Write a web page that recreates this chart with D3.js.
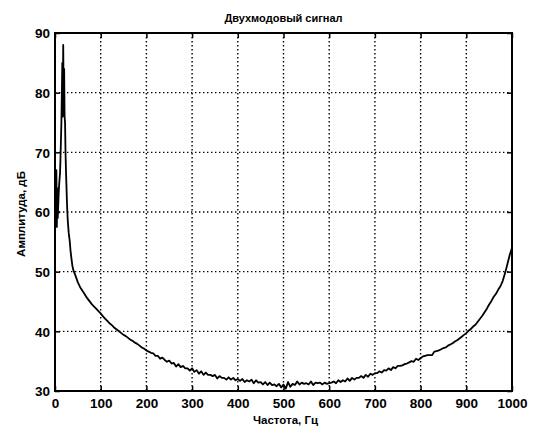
<!DOCTYPE html>
<html><head><meta charset="utf-8">
<script src="https://cdn.jsdelivr.net/npm/d3@7"></script>
<style>
html,body{margin:0;padding:0;background:#fff;}
text{font-family:"Liberation Sans",Arial,sans-serif;font-weight:bold;fill:#000;}
</style></head>
<body><svg id="chart" width="534" height="428"></svg>
<script>
const titleText = "Двухмодовый сигнал";
const xLabel = "Частота, Гц";
const yLabel = "Амплитуда, дБ";
const xTicks = [0,100,200,300,400,500,600,700,800,900,1000];
const yTicks = [30,40,50,60,70,80,90];

// low-frequency peak region (Hz, dB)
const peakFreq = [0,1,2,3,4,5,6,7,8,9,10,11,12,13,14,15,16,17,18,19,20,21,22,23,24,25,26,27,28,30,32,34,36,38];
const peakAmp  = [57,66,58,67,57.5,64,59,61,63,64.5,65.5,66.5,69,72,75,80,85,76,88,78,84,76,75,70,67,64.5,62,60,58.5,56.5,55.3,53.5,52.2,51];

// 5 Hz grid from 40 to 1000 Hz (dB)
const gridStart = 40, gridStep = 5;
const gridAmp = [
50.3,49.3,48.2,47.4,46.8,46.2,45.6,45.1,44.6,44.2,43.8,43.4,43.0,42.5,42.1,41.7,41.3,41.0,40.6,40.3,
40.0,39.7,39.4,39.2,38.9,38.6,38.4,38.1,37.9,37.6,37.3,37.1,36.8,36.6,36.4,36.3,35.9,35.9,35.4,35.6,
35.2,34.9,35.1,34.6,34.7,34.1,34.5,34.0,34.2,33.8,33.8,33.4,33.8,33.2,33.5,32.9,33.3,32.7,33.1,32.7,
32.7,32.5,32.7,32.1,32.5,32.2,32.2,31.9,32.3,31.9,32.2,31.8,32.0,31.7,32.0,31.5,31.8,31.6,31.9,31.3,
31.8,31.4,31.5,31.1,31.5,31.0,31.4,31.0,31.1,30.8,31.2,30.6,31.1,30.4,31.5,30.7,31.2,31.0,31.6,31.1,
31.4,31.2,31.3,31.1,31.6,31.0,31.4,31.3,31.4,31.1,31.4,31.2,31.3,31.4,31.6,31.3,31.8,31.5,31.8,31.6,
32.1,31.7,32.2,31.9,32.2,32.2,32.5,32.2,32.7,32.4,32.9,32.7,33.0,33.0,33.3,33.1,33.5,33.4,33.8,33.5,
34.0,33.8,34.2,34.2,34.3,34.5,34.6,34.8,35.0,34.9,35.4,35.2,35.5,35.8,35.9,36.0,36.0,36.0,36.6,36.7,
36.8,37.0,37.2,37.3,37.6,37.8,38.0,38.3,38.5,38.8,39.1,39.4,39.7,40.1,40.4,40.8,41.1,41.6,42.1,42.6,
43.2,43.8,44.5,45.1,45.8,46.3,47.0,47.6,48.5,49.8,51.3,52.8,54.0];

const data = peakFreq.map((f,i)=>({f, a: peakAmp[i]}))
  .concat(gridAmp.map((a,i)=>({f: gridStart + i*gridStep, a})));

const svg = d3.select("#chart");
const L = 55, R = 512, T = 33, B = 391;
const x = d3.scaleLinear().domain([0,1000]).range([L,R]);
const y = d3.scaleLinear().domain([30,90]).range([B,T]);

// grid
const g = svg.append("g");
g.selectAll(".vg").data(xTicks.slice(1,-1)).enter().append("line")
  .attr("x1",d=>x(d)).attr("x2",d=>x(d)).attr("y1",T).attr("y2",B)
  .attr("stroke","#000").attr("stroke-width",1.4).attr("stroke-dasharray","1.4,2.6");
g.selectAll(".hg").data(yTicks.slice(1,-1)).enter().append("line")
  .attr("x1",L).attr("x2",R).attr("y1",d=>y(d)).attr("y2",d=>y(d))
  .attr("stroke","#000").attr("stroke-width",1.4).attr("stroke-dasharray","1.4,2.6");

// axes (ticks inward)
const tl = 5;
const xAx = svg.append("g").attr("transform",`translate(0,${B})`)
  .call(d3.axisBottom(x).tickValues(xTicks).tickSizeInner(-tl).tickSizeOuter(0).tickPadding(7).tickFormat(d3.format("d")));
const xAxTop = svg.append("g").attr("transform",`translate(0,${T})`)
  .call(d3.axisTop(x).tickValues(xTicks).tickSizeInner(-tl).tickSizeOuter(0).tickFormat(""));
const yAx = svg.append("g").attr("transform",`translate(${L},0)`)
  .call(d3.axisLeft(y).tickValues(yTicks).tickSizeInner(-tl).tickSizeOuter(0).tickPadding(5).tickFormat(d3.format("d")));
const yAxR = svg.append("g").attr("transform",`translate(${R},0)`)
  .call(d3.axisRight(y).tickValues(yTicks).tickSizeInner(-tl).tickSizeOuter(0).tickFormat(""));
[xAx,xAxTop,yAx,yAxR].forEach(a=>{
  a.select(".domain").remove();
  a.selectAll(".tick line").attr("stroke","#000").attr("stroke-width",1.5);
  a.selectAll("text").attr("font-size","13.5px").attr("font-family","Liberation Sans, Arial, sans-serif").attr("font-weight","bold").attr("fill","#000");
});
yAx.selectAll("text").attr("dy","0.36em");

// frame
svg.append("rect").attr("x",L).attr("y",T).attr("width",R-L).attr("height",B-T)
  .attr("fill","none").attr("stroke","#000").attr("stroke-width",2);

// line
const line = d3.line().x(d=>x(d.f)).y(d=>y(d.a));
svg.append("path").datum(data).attr("d",line)
  .attr("fill","none").attr("stroke","#000").attr("stroke-width",1.8).attr("stroke-linejoin","round");

// labels
svg.append("text").attr("x",(L+R)/2).attr("y",22).attr("text-anchor","middle")
  .attr("font-size","11px").text(titleText);
svg.append("text").attr("x",(L+R)/2+2).attr("y",424).attr("text-anchor","middle")
  .attr("font-size","11.5px").text(xLabel);
svg.append("text").attr("transform",`translate(25,${(T+B)/2+2}) rotate(-90)`).attr("text-anchor","middle")
  .attr("font-size","11.5px").text(yLabel);
</script></body></html>
